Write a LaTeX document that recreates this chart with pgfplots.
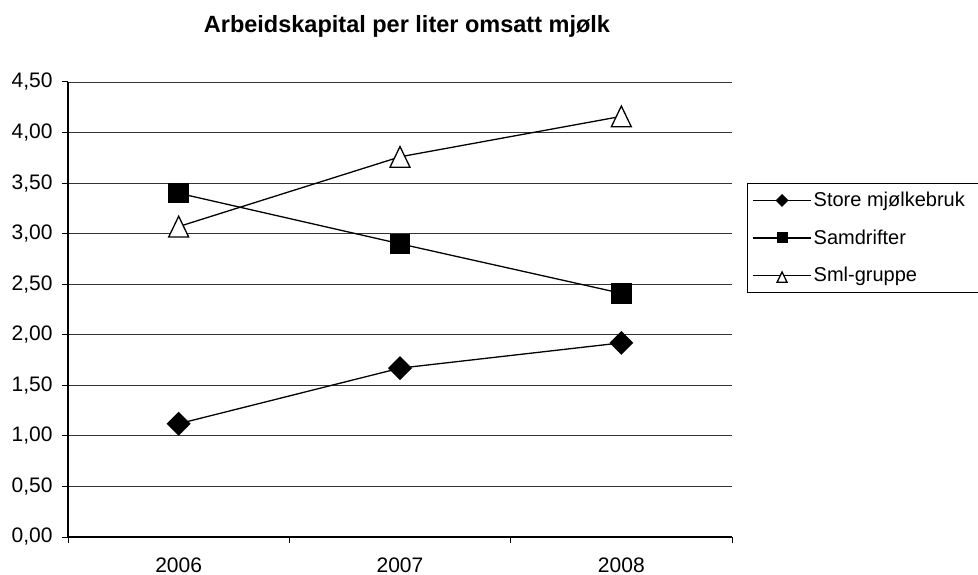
\documentclass[border=0pt]{standalone}
\usepackage{pgfplots}
\pgfplotsset{compat=1.18}
\usepackage{fontspec}
\setmainfont{Liberation Sans}
\begin{document}
\begin{tikzpicture}
\useasboundingbox (0,0) rectangle (978bp,575bp);
\begin{axis}[
  at={(68bp,38bp)}, anchor=south west,
  scale only axis,
  width=664bp, height=455bp,
  xmin=-0.5, xmax=2.5,
  ymin=0, ymax=4.5,
  ytick={0,0.5,...,4.5},
  xtick={-0.5,0.5,1.5,2.5},
  xticklabels={2006,2007,2008},
  x tick label as interval,
  axis lines*=left,
  axis line style={black, line width=1.2bp},
  tick style={black, line width=1bp},
  major tick length=6bp,
  tick align=outside,
  ymajorgrids,
  grid style={black!80, line width=0.9bp},
  font=\fontsize{21bp}{25bp}\selectfont,
  yticklabel style={xshift=-6bp, /pgf/number format/.cd, fixed, fixed zerofill, precision=2, use comma, assume math mode=true},
  xticklabel style={yshift=-11bp},
  title={\textbf{Arbeidskapital per liter omsatt mjølk}},
  title style={at={(0.5,1)}, anchor=center, xshift=7bp, yshift=50bp, font=\fontsize{23.5bp}{28bp}\selectfont},
  legend style={at={(1.0226,0.778)}, anchor=north west, draw=black, line width=0.8bp,
    font=\fontsize{20bp}{24bp}\selectfont, row sep=17.5bp, inner ysep=7bp, inner xsep=5bp},
  legend cell align=left,
  legend image code/.code={
    \draw[mark repeat=2,mark phase=2,#1, line width=1.3bp, every mark/.append style={scale=0.5}]
      plot coordinates {(0bp,0bp) (29bp,0bp) (58bp,0bp)};},
  every axis plot/.append style={line width=1.3bp, black},
  clip=false,
]
% Store mjølkebruk
\addplot[mark=square*, mark size=7.8bp, mark options={rotate=45, fill=black}]
  coordinates {(0,1.12) (1,1.67) (2,1.92)};
\addlegendentry{Store mjølkebruk\rule{14bp}{0bp}}
% Samdrifter
\addplot[mark=square*, mark size=9.6bp, mark options={fill=black}]
  coordinates {(0,3.40) (1,2.90) (2,2.41)};
\addlegendentry{Samdrifter}
% Sml-gruppe
\addplot[mark=triangle*, mark size=11.5bp, mark options={fill=white, yscale=1.2, yshift=-2.9bp}]
  coordinates {(0,3.07) (1,3.76) (2,4.16)};
\addlegendentry{Sml-gruppe}
\end{axis}
\end{tikzpicture}
\end{document}
